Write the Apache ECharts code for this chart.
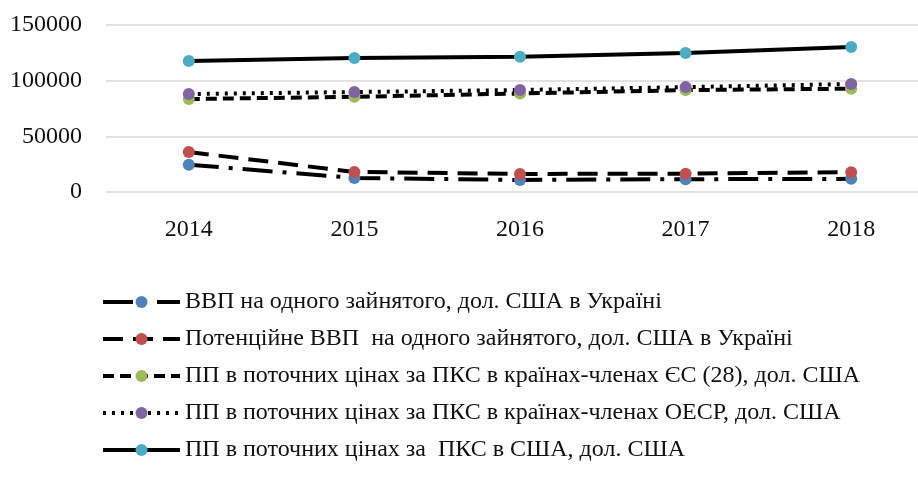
<!DOCTYPE html>
<html><head><meta charset="utf-8">
<script src="https://cdn.jsdelivr.net/npm/echarts@6/dist/echarts.min.js"></script>
<style>html,body{margin:0;padding:0;background:#fff;overflow:hidden}#c{width:934px;height:485px}</style>
</head><body><div id="c"></div>
<script>
var years = ['2014','2015','2016','2017','2018'];
var names = [
  'ВВП на одного зайнятого, дол. США в Україні',
  'Потенційне ВВП  на одного зайнятого, дол. США в Україні',
  'ПП в поточних цінах за ПКС в країнах-членах ЄС (28), дол. США',
  'ПП в поточних цінах за ПКС в країнах-членах ОЕСР, дол. США',
  'ПП в поточних цінах за  ПКС в США, дол. США'
];
var gdpUkraine = [24500, 12600, 10800, 11500, 11800];
var potentialUkraine = [35900, 18000, 16200, 16500, 17800];
var ppEU28 = [83500, 85500, 88500, 91500, 92800];
var ppOECD = [88000, 89800, 91600, 94200, 97000];
var ppUSA = [117600, 120300, 121500, 124800, 130200];
var yTicks = {min: 0, max: 150000, interval: 50000};

var colors = ['#4F81BD','#C0504D','#9BBB59','#8064A2','#4BACC6'];
var dashes = [[30,10,4,10],[20,10],[11,6],[3,6],'solid'];
var datas = [gdpUkraine, potentialUkraine, ppEU28, ppOECD, ppUSA];
var font = '"Liberation Serif", "Times New Roman", serif';

var series = datas.map(function(d, i){
  return {
    name: names[i], type: 'line', data: d,
    symbol: 'circle', symbolSize: 12,
    itemStyle: {color: colors[i]},
    lineStyle: {color: '#000', width: 4, type: dashes[i], cap: 'butt'},
    emphasis: {disabled: true},
    animation: false
  };
});

var chart = echarts.init(document.getElementById('c'), null, {renderer: 'canvas'});
chart.setOption({
  backgroundColor: '#fff',
  animation: false,
  grid: {left: 106, top: 25, right: 0, height: 167, containLabel: false},
  xAxis: {
    type: 'category', data: years, boundaryGap: true,
    axisLine: {show: false}, axisTick: {show: false},
    axisLabel: {fontFamily: font, fontSize: 24, color: '#111', margin: 26}
  },
  yAxis: {
    type: 'value', min: yTicks.min, max: yTicks.max, interval: yTicks.interval,
    axisLine: {show: false}, axisTick: {show: false},
    splitLine: {lineStyle: {color: '#d9d9d9', width: 1.5}},
    axisLabel: {fontFamily: font, fontSize: 24, color: '#111', margin: 24,
      formatter: function(v){ return String(v); }}
  },
  legend: {
    orient: 'vertical', left: 101, top: 290, padding: 0,
    itemWidth: 77, itemHeight: 15, itemGap: 13,
    lineStyle: {width: 4},
    textStyle: {fontFamily: font, fontSize: 24, color: '#111', lineHeight: 24},
    data: names
  },
  series: series
});
</script>
</body></html>
